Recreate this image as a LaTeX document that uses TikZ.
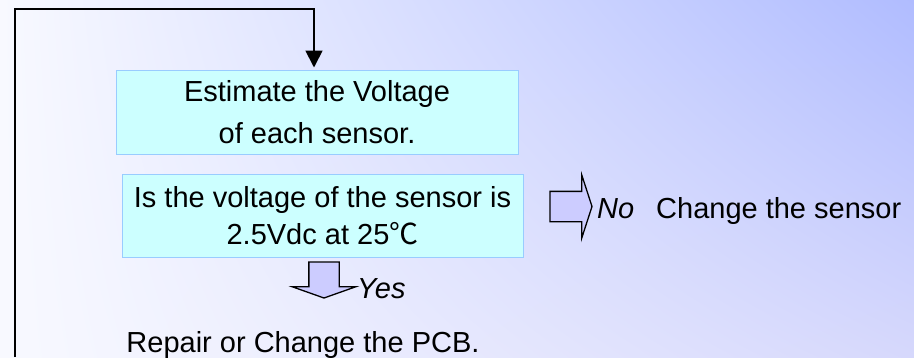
\documentclass[tikz,border=0pt]{standalone}
\usepackage{fontspec}
\setmainfont{Liberation Sans}
\newfontfamily\cjk{Noto Sans CJK SC}
\usetikzlibrary{arrows.meta,positioning,shapes.arrows,shadings,calc}
\definecolor{boxfill}{HTML}{CCFFFF}
\definecolor{boxline}{HTML}{99CCFF}
\definecolor{arrfill}{HTML}{CCCCFF}
\definecolor{bgtr}{HTML}{B0BCFF}
\definecolor{bgbr}{HTML}{D6D8FC}
\definecolor{bgl}{HTML}{F8F9FF}
\tikzset{
  box/.style   = {draw=boxline, line width=1pt, fill=boxfill, align=center,
                  inner sep=0pt, font=\fontsize{29}{42}\selectfont},
  lab/.style   = {inner sep=0pt, font=\fontsize{29}{34}\selectfont},
  labi/.style  = {inner sep=0pt, font=\fontsize{29}{34}\selectfont\itshape},
  blk/.style   = {single arrow, draw=black, line width=1.3pt, fill=arrfill,
                  inner xsep=0pt, inner ysep=14.5pt, outer sep=0pt,
                  single arrow head extend=16.5pt, single arrow head indent=0pt},
  arr/.style   = {-{Triangle[width=17pt,length=17pt]}, draw=black, line width=1.8pt},
}

\begin{document}
\begin{tikzpicture}[x=1pt, y=-1pt]
  \shade[upper left=bgl, upper right=bgtr, lower right=bgbr, lower left=bgl] (0,0) rectangle (914,357);
  \useasboundingbox (0,0) rectangle (914,357);
  \node[box, minimum width=402pt, minimum height=84pt] (est) at (317,112) {Estimate the Voltage\\of each sensor.};
  \node[box, minimum width=401pt, minimum height=83pt, font=\fontsize{29}{37}\selectfont] (chk) at (322.5,215.5) {Is the voltage of the sensor is\\2.5Vdc at 25{\cjk ℃}};
  \node[blk, minimum height=42pt, single arrow tip angle=144, anchor=tail] (noarr) at (550,206.5) {};
  \node[labi, anchor=base west] (no) at (597,218) {No};
  \node[lab, anchor=base west] (chg) at (656,218) {Change the sensor};
  \node[blk, minimum height=36pt, single arrow tip angle=141, rotate=-90, anchor=tail] (yesarr) at (324,262) {};
  \node[labi, anchor=base west] (yes) at (357,298) {Yes};
  \node[lab, anchor=base] (pcb) at (303,352) {Repair or Change the PCB.};
  \coordinate (loopin) at (15,357);
  \coordinate (looptop) at (314,9);
  \draw[arr, shorten >=2pt] (loopin) |- (looptop) -- (looptop |- est.north);
\end{tikzpicture}
\end{document}
